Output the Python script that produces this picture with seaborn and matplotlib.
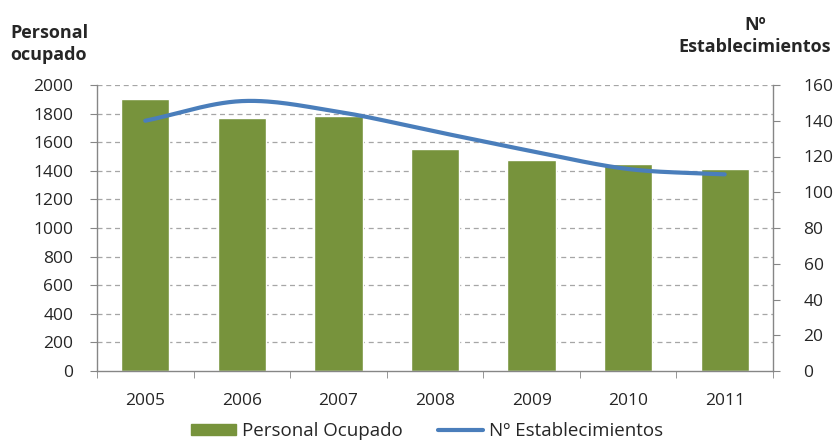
import numpy as np
import pandas as pd
import matplotlib
matplotlib.use("Agg")
import matplotlib.pyplot as plt
import seaborn as sns
from matplotlib.lines import Line2D
from matplotlib.patches import Patch

years = ["2005", "2006", "2007", "2008", "2009", "2010", "2011"]
personal_ocupado = [1900, 1770, 1780, 1550, 1475, 1450, 1410]
establecimientos = [140, 151, 145, 134, 123, 113, 110]
left_ticks = [0, 200, 400, 600, 800, 1000, 1200, 1400, 1600, 1800, 2000]
right_ticks = [0, 20, 40, 60, 80, 100, 120, 140, 160]

sns.set_style("white")
plt.rcParams['font.family'] = ['Open Sans', 'DejaVu Sans']

BAR = "#77933C"
LINE = "#4A7EBB"
GRID = "#A6A6A6"
AXC = "#868686"

fig = plt.figure(figsize=(8.34, 4.41), dpi=100)
ax = fig.add_axes([97/834, 1-371/441, 676/834, 286/441])

df = pd.DataFrame({"year": years, "personal": personal_ocupado})
sns.barplot(data=df, x="year", y="personal", color=BAR, saturation=1, width=0.5, ax=ax)
ax.set_xlim(-0.5, len(years) - 0.5)
ax.set_ylim(0, 2000)
ax.set_yticks(left_ticks)
ax.set_xticks(np.arange(len(years) + 1) - 0.5, minor=True)
ax.set_xlabel("")
ax.set_ylabel("")
for y in left_ticks[1:]:
    ax.axhline(y, color=GRID, lw=0.9, ls=(0, (4, 3)), zorder=0)
ax.set_axisbelow(True)

# smooth curve (Catmull-Rom rendering of the data points)
def catmull(xs, ys, n=30):
    xs = np.asarray(xs, float); ys = np.asarray(ys, float)
    px = np.concatenate([[2*xs[0]-xs[1]], xs, [2*xs[-1]-xs[-2]]])
    py = np.concatenate([[2*ys[0]-ys[1]], ys, [2*ys[-1]-ys[-2]]])
    ox, oy = [], []
    for i in range(1, len(px)-2):
        t = np.linspace(0, 1, n, endpoint=False)
        for arr, out in ((px, ox), (py, oy)):
            p0, p1, p2, p3 = arr[i-1], arr[i], arr[i+1], arr[i+2]
            out.extend(0.5*((2*p1) + (-p0+p2)*t + (2*p0-5*p1+4*p2-p3)*t**2 + (-p0+3*p1-3*p2+p3)*t**3))
    ox.append(xs[-1]); oy.append(ys[-1])
    return np.array(ox), np.array(oy)

ax2 = ax.twinx()
sx, sy = catmull(np.arange(len(years)), establecimientos)
sns.lineplot(x=sx, y=sy, color=LINE, lw=3, ax=ax2, sort=False)
ax2.set_ylim(0, 160)
ax2.set_yticks(right_ticks)

for a in (ax, ax2):
    for s in a.spines.values():
        s.set_visible(False)
ax.spines['left'].set_visible(True)
ax.spines['bottom'].set_visible(True)
ax2.spines['right'].set_visible(True)
for s in (ax.spines['left'], ax.spines['bottom'], ax2.spines['right']):
    s.set_color(AXC); s.set_linewidth(1)

ax.tick_params(axis='y', direction='out', length=5, color=AXC, labelsize=12.5, pad=12, left=True)
ax.tick_params(axis='x', which='major', length=0, labelsize=12.5, pad=16)
ax.tick_params(axis='x', which='minor', direction='out', length=5, color=AXC, bottom=True)
ax2.tick_params(axis='y', direction='out', length=5, color=AXC, labelsize=12.5, pad=17, right=True)

fig.text(10/834, 1-44/441, "Personal\nocupado", fontsize=13, fontweight='bold', ha='left', va='center', linespacing=1.3)
fig.text(755/834, 1-36/441, "Nº\nEstablecimientos", fontsize=13, fontweight='bold', ha='center', va='center', linespacing=1.3)

handles = [Patch(color=BAR, label="Personal Ocupado"),
           Line2D([0], [0], color=LINE, lw=3, label="Nº Establecimientos")]
fig.legend(handles=handles, loc='center', bbox_to_anchor=(427/834, 1-431/441), ncol=2, frameon=False,
           fontsize=13.5, handlelength=2.4, handleheight=0.55, columnspacing=1.9, handletextpad=0.3)

fig.savefig("out.png", dpi=100)
